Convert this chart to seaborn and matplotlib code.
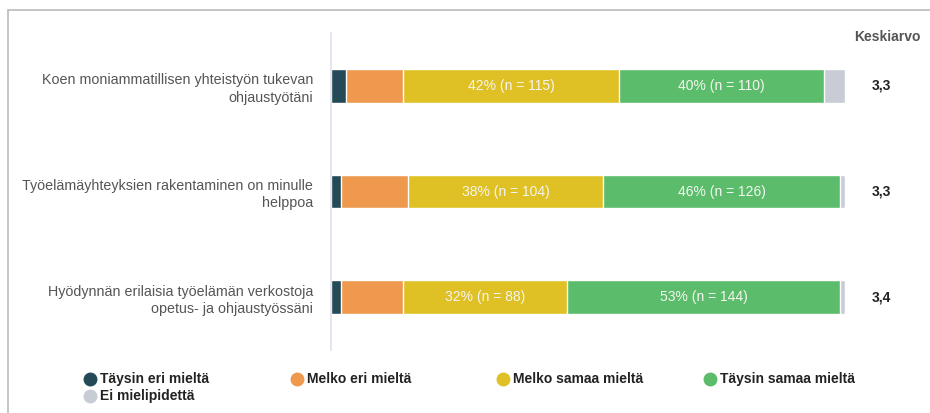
import matplotlib
matplotlib.use("Agg")
import matplotlib.pyplot as plt
from matplotlib.lines import Line2D
import numpy as np
import pandas as pd
import seaborn as sns

sns.set_theme(style="white")
plt.rcParams['font.family'] = ['Liberation Sans', 'DejaVu Sans']

# ---- data ----
questions = [
    "Koen moniammatillisen yhteistyön tukevan\nohjaustyötäni",
    "Työelämäyhteyksien rakentaminen on minulle\nhelppoa",
    "Hyödynnän erilaisia työelämän verkostoja\nopetus- ja ohjaustyössäni",
]
categories = ["Täysin eri mieltä", "Melko eri mieltä", "Melko samaa mieltä",
              "Täysin samaa mieltä", "Ei mielipidettä"]
pct_taysin_eri = [3, 2, 2]
pct_melko_eri = [11, 13, 12]
pct_melko_samaa = [42, 38, 32]
pct_taysin_samaa = [40, 46, 53]
pct_ei_mielipidetta = [4, 1, 1]
n_melko_samaa = [115, 104, 88]
n_taysin_samaa = [110, 126, 144]
means = ["3,3", "3,3", "3,4"]
colors = ["#244a58", "#ee994d", "#dfc125", "#5bbd6b", "#c8cdd5"]

series = [pct_taysin_eri, pct_melko_eri, pct_melko_samaa, pct_taysin_samaa, pct_ei_mielipidetta]
counts = {2: n_melko_samaa, 3: n_taysin_samaa}

df = pd.DataFrame({c: s for c, s in zip(categories, series)})
df["question"] = questions
cum = df[categories].cumsum(axis=1)

# ---- figure ----
fig = plt.figure(figsize=(9.3, 4.13), dpi=100)
ax = fig.add_axes([331 / 930, 1 - 350 / 413, (845 - 331) / 930, (350 - 33) / 413])

# draw stacked bars from the last cumulative layer to the first
for i in range(len(categories) - 1, -1, -1):
    sns.barplot(x=cum[categories[i]], y=df["question"], color=colors[i],
                orient="h", width=0.32, edgecolor="white", linewidth=1,
                ax=ax, saturation=1)

# labels inside bars
for i, cnts in counts.items():
    for r in range(len(questions)):
        left = cum[categories[i]].iloc[r] - df[categories[i]].iloc[r]
        center = left + df[categories[i]].iloc[r] / 2
        ax.text(center, r, f"{df[categories[i]].iloc[r]}% (n = {cnts[r]})",
                ha="center", va="center", color="#f5f5f0", fontsize=10)

# mean values
for r, m in enumerate(means):
    ax.text(1.0 + 36 / 514, r, m, transform=ax.get_yaxis_transform(),
            ha="center", va="center", fontsize=10, fontweight="bold", color="#222222")
fig.text(887 / 930, 1 - 37 / 413, "Keskiarvo", ha="center", va="center",
         fontsize=10, fontweight="bold", color="#555555")

ax.set_xlim(0, 100)
ax.set_ylim(2.5, -0.5)
ax.set_xlabel("")
ax.set_ylabel("")
ax.set_xticks([])
for s in ["top", "right", "bottom"]:
    ax.spines[s].set_visible(False)
ax.spines["left"].set_color("#dde3ef")
ax.spines["left"].set_linewidth(1.2)
ax.tick_params(axis="y", length=0, pad=13)
ax.set_yticks(range(len(questions)))
ax.set_yticklabels(questions, fontsize=10.3, color="#555555", ha="right",
                   linespacing=1.3)

# frame lines (top and left)
fig.add_artist(Line2D([8 / 930, 8 / 930], [0, 1 - 10 / 413], transform=fig.transFigure,
                      color="#bbbbbb", linewidth=1.2))
fig.add_artist(Line2D([8 / 930, 1], [1 - 10 / 413, 1 - 10 / 413], transform=fig.transFigure,
                      color="#bbbbbb", linewidth=1.2))

# legend
leg_x = [90, 297, 503, 710, 90]
leg_y = [379, 379, 379, 379, 396]
for c, col, lx, ly in zip(categories, colors, leg_x, leg_y):
    fig.add_artist(Line2D([lx / 930], [1 - ly / 413], marker="o", markersize=9,
                          color=col, linestyle="none", transform=fig.transFigure))
    fig.text((lx + 10) / 930, 1 - ly / 413, c, ha="left", va="center",
             fontsize=10, fontweight="bold", color="#222222")

fig.savefig("out.png", dpi=100)
